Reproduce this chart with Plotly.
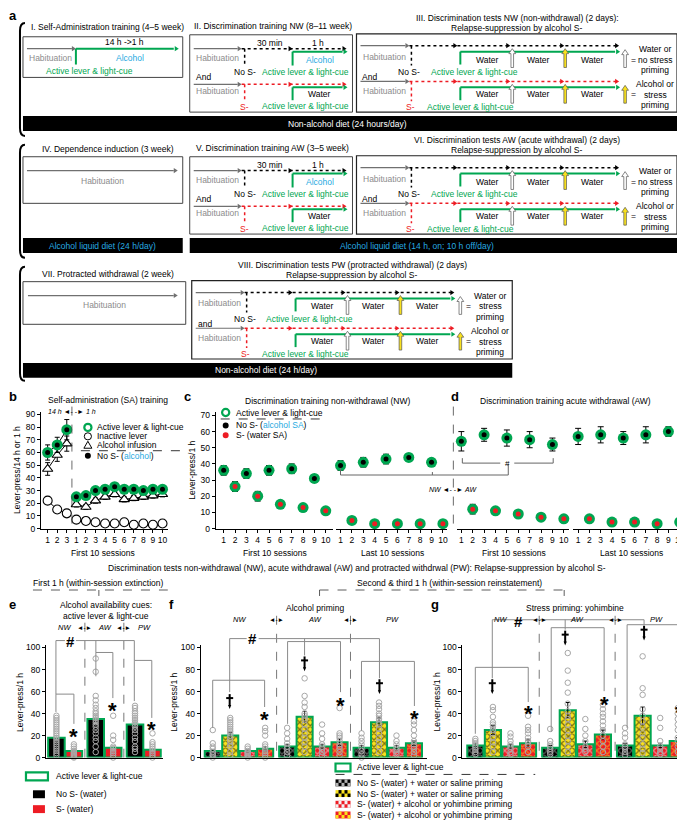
import plotly.graph_objects as go

W, H = 685, 821
FONT = "Liberation Sans, Arial, sans-serif"
FS = 8.5
GREEN = "#00a651"
CYAN = "#27aae1"
RED = "#ed1c24"
DGRAY = "#707070"
LGRAY = "#8c8c8c"
PTGRAY = "#a8a8a8"
BRK = "#8a8a8a"
YEL = "#f9e11e"

# ---------------- data: panel b ----------------
b_tick_labels = ["1", "2", "3", "1", "2", "3", "4", "5", "6", "7", "8", "9", "10"]
b_active = [60, 66, 78, 25, 26, 30, 31, 33, 31, 31, 30, 31, 31]
b_active_err = [6, 6, 8, 3, 3, 3, 3, 3, 3, 3, 3, 3, 3]
b_infusion = [47, 58, 67, 19, 17, 22, 25, 27, 23, 24, 25, 26, 27]
b_infusion_err = [5, 5, 6, 2, 2, 2, 2, 2, 2, 2, 2, 2, 2]
b_inactive = [22, 15, 12, 7, 6, 5, 4, 4, 5, 3, 4, 3, 4]

# ---------------- data: panels c, d ----------------
session_labels = [str(i) for i in range(1, 11)]
nos_sessions = [1, 3, 5, 7, 9]
s_sessions = [2, 4, 6, 8, 10]
c_first_nos = [36, 34, 36, 37, 31]
c_first_nos_err = [3, 3, 3, 3, 2]
c_first_s = [26, 20, 15, 13, 11]
c_first_s_err = [3, 3, 2, 2, 2]
c_last_nos = [39, 41, 43, 44, 41]
c_last_nos_err = [3, 3, 3, 2, 2]
c_last_s = [5, 3, 3, 3, 3]
c_last_s_err = [1, 1, 1, 1, 1]
d_first_nos = [54, 58, 56, 55, 52]
d_first_nos_err = [6, 4, 5, 5, 4]
d_first_s = [12, 11, 9, 7, 6]
d_first_s_err = [3, 2, 1, 1, 1]
d_last_nos = [57, 58, 56, 58, 60]
d_last_nos_err = [5, 5, 4, 5, 3]
d_last_s = [6, 4, 4, 3, 4]
d_last_s_err = [1, 1, 1, 1, 1]

# ---------------- data: panel e ----------------
phases = ["NW", "AW", "PW"]
e_nos = [18, 35, 30]
e_nos_err = [2, 4, 3]
e_s = [6, 9, 7]
e_s_err = [1, 2, 1]
e_nos_pts = [[38, 36, 34, 32, 30, 28, 26, 24, 22, 20, 18, 16, 14, 12, 10, 8, 6, 4, 2],
             [90, 78, 56, 52, 48, 45, 42, 40, 38, 36, 34, 32, 30, 28, 25, 22, 18, 15, 10, 5],
             [47, 45, 42, 40, 38, 36, 34, 32, 30, 28, 25, 22, 18, 15, 10, 8, 5]]
e_s_pts = [[12, 10, 8, 6, 5, 4, 3, 2, 1, 0],
           [38, 20, 16, 10, 8, 6, 4, 2, 0],
           [22, 14, 12, 10, 8, 6, 4, 2, 0]]

# ---------------- data: panels f, g ----------------
f_nos_water = [6, 10, 9]
f_nos_prime = [20, 37, 32]
f_s_water = [6, 10, 9]
f_s_prime = [8, 14, 13]
f_err = [[1, 2, 2], [3, 5, 4], [1, 2, 2], [2, 3, 2]]
f_pts = [
    [[25, 13, 10, 8, 5, 3, 2, 0], [27, 22, 17, 13, 10, 8, 5, 2], [22, 18, 15, 12, 9, 6, 3, 0]],
    [[36, 34, 32, 30, 28, 26, 24, 22, 20, 18, 15, 12, 10, 5, 2],
     [72, 56, 50, 46, 40, 38, 36, 34, 30, 26, 22, 18, 14, 10, 5],
     [50, 47, 44, 40, 38, 35, 32, 30, 26, 22, 18, 14, 10, 5]],
    [[10, 8, 6, 5, 4, 3, 2, 0], [30, 22, 17, 12, 10, 8, 5, 2], [20, 15, 12, 9, 7, 5, 3]],
    [[27, 24, 20, 12, 10, 8, 6, 4, 2, 0], [45, 22, 20, 18, 15, 12, 10, 8, 5, 2],
     [33, 30, 25, 20, 15, 12, 10, 8, 5, 2]],
]
g_nos_water = [11, 9, 11]
g_nos_prime = [25, 43, 38]
g_s_water = [10, 12, 11]
g_s_prime = [13, 21, 15]
g_err = [[2, 2, 2], [4, 7, 8], [2, 3, 2], [3, 4, 3]]
g_pts = [
    [[17, 15, 13, 11, 9, 7, 5, 3], [26, 15, 12, 10, 8, 5, 3], [27, 22, 18, 12, 10, 8, 5, 2]],
    [[46, 43, 37, 32, 30, 28, 25, 22, 18, 14, 10, 5],
     [95, 79, 68, 59, 49, 42, 38, 35, 30, 25, 20, 15, 10, 5],
     [92, 63, 57, 44, 38, 33, 28, 22, 18, 12, 8, 4]],
    [[22, 19, 15, 12, 10, 8, 5, 3], [35, 26, 20, 15, 10, 8, 5], [36, 27, 15, 10, 8, 5, 3]],
    [[38, 28, 25, 22, 18, 15, 12, 10, 5], [48, 44, 40, 37, 33, 29, 25, 20, 15, 10, 5],
     [45, 40, 35, 30, 25, 18, 15, 10, 5]],
]
prime_legend = ["No S- (water) + water or saline priming",
                "No S- (water) + water or saline priming",
                "S- (water) + alcohol or yohimbine priming",
                "S- (water) + alcohol or yohimbine priming"]
prime_bg = ["black", YEL, RED, RED]
prime_fg = ["#b5b5b5", "black", "#f2f2f2", YEL]

# ---------------- helpers ----------------
shapes, annos = [], []


def X(x):
    return x / W


def Y(y):
    return 1 - y / H


def line(x0, y0, x1, y1, color="black", w=1, dash="solid"):
    shapes.append(dict(type="line", xref="paper", yref="paper", x0=X(x0), y0=Y(y0), x1=X(x1), y1=Y(y1),
                       line=dict(color=color, width=w, dash=dash), layer="above"))


def rect(x0, y0, x1, y1, fill="rgba(0,0,0,0)", color="black", w=1):
    shapes.append(dict(type="rect", xref="paper", yref="paper", x0=X(x0), y0=Y(y1), x1=X(x1), y1=Y(y0),
                       fillcolor=fill, line=dict(color=color, width=w), layer="above"))


def circ(x, y, r, fill, color, w=1):
    shapes.append(dict(type="circle", xref="paper", yref="paper", x0=X(x - r), y0=Y(y + r), x1=X(x + r),
                       y1=Y(y - r), fillcolor=fill, line=dict(color=color, width=w), layer="above"))


def poly(pts, fill, color=None, w=0):
    path = "M " + " L ".join(f"{X(a):.5f},{Y(b):.5f}" for a, b in pts) + " Z"
    shapes.append(dict(type="path", xref="paper", yref="paper", path=path, fillcolor=fill,
                       line=dict(color=color or fill, width=w), layer="above"))


def head_r(x, y, color):
    poly([(x - 4, y - 2.6), (x, y), (x - 4, y + 2.6)], color)


def up_arrow(x, yb, yt, fill, edge="#555"):
    poly([(x - 1.3, yb), (x - 1.3, yt + 5), (x - 3.4, yt + 5), (x, yt), (x + 3.4, yt + 5),
          (x + 1.3, yt + 5), (x + 1.3, yb)], fill, edge, 0.7)


def text(x, y, s, size=FS, color="black", xa="center", bold=False, italic=False, angle=0):
    if bold:
        s = f"<b>{s}</b>"
    if italic:
        s = f"<i>{s}</i>"
    annos.append(dict(x=X(x), y=Y(y), xref="paper", yref="paper", text=s, showarrow=False, xanchor=xa,
                      yanchor="middle", font=dict(size=size, color=color, family=FONT), textangle=angle))


def brace(x, y0, y1):
    p = (f"M {X(x + 5)},{Y(y0)} Q {X(x)},{Y(y0)} {X(x)},{Y(y0 + 8)} L {X(x)},{Y(y1 - 8)} "
         f"Q {X(x)},{Y(y1)} {X(x + 5)},{Y(y1)}")
    shapes.append(dict(type="path", xref="paper", yref="paper", path=p, line=dict(color="black", width=2)))


def star(x, y):
    text(x, y + 5, "*", size=22, bold=True)


def dagger(x, y):
    line(x, y - 7, x, y + 5, "black", 2)
    line(x - 3.5, y - 3, x + 3.5, y - 3, "black", 2)
    poly([(x - 1.6, y + 4), (x + 1.6, y + 4), (x, y + 8)], "black")


# ---------------- panel a ----------------
def train_box(dy, title):
    rect(182, 25 + dy, 345, 103 + dy, color="#444", w=1)
    text(265, 16 + dy, title)
    y = 39 + dy
    line(186, y, 230, y, DGRAY, 1.2); head_r(234, y, DGRAY)
    line(234, y, 334, y, "black", 1.5, "dot"); head_r(285, y, "black"); head_r(339, y, "black")
    text(262, y - 6, "30 min"); text(310, y - 6, "1 h")
    line(237, y, 237, y + 17, "black", 1.5, "dot")
    text(210, y + 9, "Habituation", color=LGRAY)
    line(285, y + 17, 285, y + 3, GREEN, 2); line(285, y + 3, 335, y + 3, GREEN, 2); head_r(340, y + 3, GREEN)
    text(312, y + 11, "Alcohol", color=CYAN)
    text(237, y + 24, "No S-"); text(298, y + 24, "Active lever & light-cue", color=GREEN)
    text(186, y + 29, "And", xa="left")
    y = 75 + dy
    line(186, y, 230, y, DGRAY, 1.2); head_r(234, y, DGRAY)
    line(234, y, 334, y, RED, 1.5, "dot"); head_r(285, y, RED); head_r(339, y, RED)
    line(237, y, 237, y + 17, RED, 1.5, "dot")
    text(210, y + 7, "Habituation", color=LGRAY)
    line(285, y + 16, 285, y + 3, GREEN, 2); line(285, y + 3, 335, y + 3, GREEN, 2); head_r(340, y + 3, GREEN)
    text(312, y + 10, "Water")
    text(237, y + 23, "S-", color=RED); text(298, y + 22, "Active lever & light-cue", color=GREEN)


def test_box(dx, dy, t1, t2, leg_a, leg_b, and_text="And"):
    rect(349 + dx, 24 + dy, 670 + dx, 103 + dy, color="#222", w=1.2)
    text(510 + dx, 8 + dy, t1); text(510 + dx, 18 + dy, t2)
    for row in range(2):
        y = (36 if row == 0 else 72) + dy
        dc = "black" if row == 0 else RED
        line(353 + dx, y, 398 + dx, y, DGRAY, 1.2); head_r(402 + dx, y, DGRAY)
        line(402 + dx, y, 609 + dx, y, dc, 1.5, "dot")
        for hx in (450, 503, 557, 612):
            head_r(hx + dx, y, dc)
        line(404 + dx, y, 404 + dx, y + 20, dc, 1.5, "dot")
        text(377 + dx, y + 11 - row, "Habituation", color=LGRAY)
        line(453 + dx, y + 19, 453 + dx, y + 6, GREEN, 2); line(453 + dx, y + 6, 608 + dx, y + 6, GREEN, 2)
        head_r(613 + dx, y + 6, GREEN)
        for wx in (480, 531, 585):
            text(wx + dx, y + 14 - row, "Water")
        up_arrow(505 + dx, y + 22, y + 3, "white"); up_arrow(558 + dx, y + 22, y + 3, YEL)
        up_arrow(618 + dx, y + 22, y + 4, "white" if row == 0 else YEL)
        text(626 + dx, y + 14 - row, "=")
        leg = leg_a if row == 0 else leg_b
        for i, s in enumerate(leg):
            text(648 + dx, y + 3 + 11 * i - (row * i * 0.5), s)
        if row == 0:
            text(402 + dx, y + 27, "No S-")
            text(467 + dx, y + 27, "Active lever & light-cue", color=GREEN)
            text(353 + dx, y + 32, and_text, xa="left")
        else:
            text(403 + dx, y + 26, "S-", color=RED)
            text(463 + dx, y + 26, "Active lever & light-cue", color=GREEN)


text(5, 6, "a", size=13, bold=True)
# block 1
brace(12, 13, 127)
rect(15, 27, 175, 68, color="#444", w=1)
text(100, 17, "I. Self-Administration training (4–5 week)")
line(19, 39, 64, 39, DGRAY, 1.2); head_r(68, 39, DGRAY)
line(68, 55, 68, 39, GREEN, 2); line(68, 39, 166, 39, GREEN, 2); head_r(171, 39, GREEN)
text(117, 32, "14 h ->1 h")
text(43, 48, "Habituation", color=LGRAY)
text(122, 48, "Alcohol", color=CYAN)
text(82, 62, "Active lever & light-cue", color=GREEN)
train_box(0, "II. Discrimination training NW (8–11 week)")
test_box(0, 0, "III. Discrimination tests NW (non-withdrawal) (2 days):", "Relapse-suppression by alcohol S-",
         ["Water or", "no stress", "priming"], ["Alcohol or", "stress", "priming"])
rect(15, 107, 670, 122, fill="black", color="black", w=0)
text(340, 115, "Non-alcohol diet (24 hours/day)", color="white")
# block 2
dy = 123
brace(12, 136, 250)
rect(15, 148, 175, 195, color="#444", w=1)
text(100, 140, "IV. Dependence induction (3 week)")
line(19, 162, 166, 162, DGRAY, 1.2); head_r(170, 162, DGRAY)
text(95, 172, "Habituation", color=LGRAY)
train_box(dy, "V. Discrimination training AW (3–5 week)")
test_box(0, dy, "VI. Discrimination tests AW (acute withdrawal) (2 days)", "Relapse-suppression by alcohol S-",
         ["Water or", "no stress", "priming"], ["Alcohol or", "stress", "priming"])
rect(15, 230, 175, 245, fill="black", color="black", w=0)
text(95, 238, "Alcohol liquid diet (24 h/day)", color=CYAN)
rect(182, 230, 670, 245, fill="black", color="black", w=0)
text(410, 238, "Alcohol liquid diet (14 h, on; 10 h off/day)", color=CYAN)
# block 3
dy = 249
brace(12, 259, 374)
rect(15, 274, 178, 317, color="#444", w=1)
text(100, 266, "VII. Protracted withdrawal (2 week)")
line(20, 288, 166, 288, DGRAY, 1.2); head_r(170, 288, DGRAY)
text(97, 298, "Habituation", color=LGRAY)
test_box(-165, dy, "VIII. Discrimination tests PW (protracted withdrawal) (2 days)",
         "Relapse-suppression by alcohol S-",
         ["Water or", "stress", "priming"], ["Alcohol or", "stress", "priming"], and_text="and")
rect(15, 356, 505, 371, fill="black", color="black", w=0)
text(258, 363.5, "Non-alcohol diet (24 h/day)", color="white")

# ---------------- panel b ----------------
fig = go.Figure()
b_x = list(range(1, len(b_tick_labels) + 1))


def split(v):
    return v[:3] + [None] + v[3:]


bx_s = split(b_x)
fig.add_trace(go.Scatter(x=bx_s, y=split(b_inactive), mode="lines+markers", line=dict(color="black", width=1),
                         marker=dict(symbol="circle", size=9, color="white", line=dict(color="black", width=1.1)),
                         cliponaxis=False))
fig.add_trace(go.Scatter(x=bx_s, y=split(b_infusion), mode="lines+markers", line=dict(color="black", width=1),
                         marker=dict(symbol="triangle-up", size=9, color="white", line=dict(color="black", width=1.1)),
                         error_y=dict(type="data", array=split(b_infusion_err), color="black", thickness=1, width=2.5),
                         cliponaxis=False))
fig.add_trace(go.Scatter(x=bx_s, y=split(b_active), mode="lines+markers", line=dict(color="black", width=1),
                         marker=dict(size=11, color=GREEN),
                         error_y=dict(type="data", array=split(b_active_err), color="black", thickness=1, width=2.5),
                         cliponaxis=False))
fig.add_trace(go.Scatter(x=b_x, y=b_active, mode="markers", marker=dict(size=5, color="black"), cliponaxis=False))

text(5, 390, "b", size=13, bold=True)
text(100, 393, "Self-administration (SA) training")
text(64, 405, "<i>14 h</i> ◄- -► <i>1 h</i>", size=7)
line(64, 400, 64, 523, "#444", 0.8, "dash")
text(9, 464, "Lever-press/14 h or 1 h", angle=-90)
text(95, 548, "First 10 sessions")
circ(80, 421, 3.6, "white", GREEN, 2.2); text(87, 421, "Active lever & light-cue", xa="left")
circ(80, 430, 3.6, "white", "black", 1); text(87, 430, "Inactive lever", xa="left")
poly([(76, 442), (80, 435), (84, 442)], "white", "black", 1); text(87, 439, "Alcohol infusion", xa="left")
line(73, 444.5, 176, 444.5, "black", 0.8, "dash")
circ(80, 449.5, 3, "black", "black", 0)
text(87, 449.5, f"No S- (<span style='color:{CYAN}'>alcohol</span>)", xa="left")


# ---------------- panels c, d ----------------
def add_pts(xa, xs, ys, errs, center):
    fig.add_trace(go.Scatter(x=xs, y=ys, mode="markers", xaxis=xa, yaxis="y2", marker=dict(size=11, color=GREEN),
                             error_y=dict(type="data", array=errs, color="black", thickness=1, width=3),
                             cliponaxis=False))
    fig.add_trace(go.Scatter(x=xs, y=ys, mode="markers", xaxis=xa, yaxis="y2",
                             marker=dict(size=5, color=center), cliponaxis=False))


add_pts("x2", nos_sessions, c_first_nos, c_first_nos_err, "black")
add_pts("x2", s_sessions, c_first_s, c_first_s_err, RED)
add_pts("x3", nos_sessions, c_last_nos, c_last_nos_err, "black")
add_pts("x3", s_sessions, c_last_s, c_last_s_err, RED)
add_pts("x4", nos_sessions, d_first_nos, d_first_nos_err, "black")
add_pts("x4", s_sessions, d_first_s, d_first_s_err, RED)
add_pts("x5", nos_sessions, d_last_nos, d_last_nos_err, "black")
add_pts("x5", s_sessions, d_last_s, d_last_s_err, RED)

text(180, 390, "c", size=13, bold=True)
text(320, 394, "Discrimination training non-withdrawal (NW)")
text(184, 464, "Lever-press/1 h", angle=-90)
circ(218, 406, 3.6, "white", GREEN, 2.2); text(226, 406, "Active lever & light-cue", xa="left")
line(213, 412.5, 316, 412.5, "black", 0.8, "dash")
circ(218, 419, 3, "black", "black", 0)
text(226, 419, f"No S- (<span style='color:{CYAN}'>alcohol SA</span>)", xa="left")
circ(218, 429, 3, RED, RED, 0); text(226, 429, "S- (water SA)", xa="left")
text(267, 548, "First 10 sessions"); text(385, 548, "Last 10 sessions")
text(448, 390, "d", size=13, bold=True)
text(558, 394, "Discrimination training acute withdrawal (AW)")
text(507, 548, "First 10 sessions"); text(624, 548, "Last 10 sessions")
line(446, 400, 446, 525, "#444", 0.8, "dash")
text(446, 484, "<i>NW</i> ◄- -► <i>AW</i>", size=7)
line(333, 462, 333, 469, "#666", 1); line(333, 469, 501, 469, "#666", 1)
line(425, 466, 425, 469, "#666", 1); line(501, 469, 501, 458, "#666", 1)
line(455, 452, 455, 457, "#666", 1); line(455, 457, 493, 457, "#666", 1)
line(507, 457, 546, 457, "#666", 1); line(546, 457, 546, 452, "#666", 1)
text(500, 457, "#", size=8)

# ---------------- shared text for e, f, g ----------------
text(350, 563, "Discrimination tests non-withdrawal (NW), acute withdrawal (AW) and protracted withdrwal (PW): "
               "Relapse-suppression by alcohol S-")
text(91, 578, "First 1 h (within-session extinction)")
line(25, 585, 160, 585, "#333", 0.8, "dash"); line(91, 585, 91, 591, "#333", 0.8)
text(442, 578, "Second & third 1 h (within-session reinstatement)")
line(312, 585, 557, 585, "#333", 0.8, "dash")
line(312, 585, 312, 591, "#333", 0.8); line(557, 585, 557, 591, "#333", 0.8)

# ---------------- panel e ----------------
E_STRIDE = 2.25
e_x_nos = [g * E_STRIDE for g in range(3)]
e_x_s = [g * E_STRIDE + 1 for g in range(3)]
fig.add_trace(go.Bar(x=e_x_nos, y=e_nos, width=0.95, xaxis="x6", yaxis="y6",
                     marker=dict(color="black", line=dict(color=GREEN, width=2)),
                     error_y=dict(type="data", array=e_nos_err, color="#bbbbbb", thickness=1, width=2)))
fig.add_trace(go.Bar(x=e_x_s, y=e_s, width=0.95, xaxis="x6", yaxis="y6",
                     marker=dict(color=RED, line=dict(color=GREEN, width=2)),
                     error_y=dict(type="data", array=e_s_err, color="#bbbbbb", thickness=1, width=2)))
for xs, pts in ((e_x_nos, e_nos_pts), (e_x_s, e_s_pts)):
    px_, py_ = [], []
    for xv, lst in zip(xs, pts):
        px_ += [xv] * len(lst)
        py_ += lst
    fig.add_trace(go.Scatter(x=px_, y=py_, mode="markers", xaxis="x6", yaxis="y6", cliponaxis=False,
                             marker=dict(symbol="circle-open", size=5.5, color=PTGRAY, line=dict(width=1))))

text(5, 600, "e", size=13, bold=True)
text(98, 600, "Alcohol availability cues:")
text(98, 611, "active lever & light-cue")
for xx, s in ((57, "NW"), (97, "AW"), (137, "PW")):
    text(xx, 623, s, size=7.5, italic=True)
for xx in (77, 116):
    text(xx, 623, "◄-►", size=6.5)
    line(xx, 618, xx, 754, "#555", 0.8, "dash")
text(12, 698, "Lever-press/1 h", angle=-90)
# brackets e
line(48, 636, 57, 636, BRK); line(68, 636, 126.5, 636, BRK); text(62.5, 637, "#", size=15, bold=True)
line(48, 636, 48, 690, BRK)
line(48, 690, 66, 690, BRK); line(48, 690, 48, 708, BRK); line(66, 690, 66, 720, BRK); star(66, 728)
line(88, 636, 88, 648, BRK)
line(88, 648, 105, 648, BRK); line(88, 648, 88, 672, BRK); line(105, 648, 105, 694, BRK); star(105, 702)
line(126.5, 636, 126.5, 656, BRK)
line(126.5, 656, 144, 656, BRK); line(126.5, 656, 126.5, 697, BRK); line(144, 656, 144, 714, BRK); star(144, 721)
# legend e
rect(18, 769, 40, 777, fill="white", color=GREEN, w=2.2); text(46, 773, "Active lever & light-cue", xa="left")
rect(25, 787, 37, 795, fill="black", color="black", w=0); text(46, 791, "No S- (water)", xa="left")
rect(25, 802, 37, 810, fill=RED, color=RED, w=0); text(46, 806, "S- (water)", xa="left")

# ---------------- panels f, g ----------------
FG_STRIDE = 4.26


def prime_panel(xa, ya, series, errs, pts):
    for i, (vals, er) in enumerate(zip(series, errs)):
        xs = [g * FG_STRIDE + i for g in range(3)]
        fig.add_trace(go.Bar(x=xs, y=vals, width=0.92, xaxis=xa, yaxis=ya,
                             marker=dict(color=prime_bg[i], line=dict(color=GREEN, width=2),
                                         pattern=dict(shape="x", fgcolor=prime_fg[i], bgcolor=prime_bg[i],
                                                      size=5, solidity=0.45)),
                             error_y=dict(type="data", array=er, color="black", thickness=1, width=2)))
        px_, py_ = [], []
        for xv, lst in zip(xs, pts[i]):
            px_ += [xv] * len(lst)
            py_ += lst
        fig.add_trace(go.Scatter(x=px_, y=py_, mode="markers", xaxis=xa, yaxis=ya, cliponaxis=False,
                                 marker=dict(symbol="circle-open", size=5.5, color=PTGRAY, line=dict(width=1))))


prime_panel("x7", "y7", [f_nos_water, f_nos_prime, f_s_water, f_s_prime], f_err, f_pts)
prime_panel("x8", "y8", [g_nos_water, g_nos_prime, g_s_water, g_s_prime], g_err, g_pts)

text(164, 600, "f", size=13, bold=True)
text(307, 603, "Alcohol priming")
text(166, 698, "Lever-press/1 h", angle=-90)
for xx, s in ((232, "NW"), (307, "AW"), (385, "PW")):
    text(xx, 615, s, size=7.5, italic=True)
for xx in (269, 343):
    text(xx, 615, "◄-►", size=6.5)
    line(xx, 611, xx, 754, "#555", 0.8, "dash")
# f brackets
line(222, 634, 239, 634, BRK); line(251, 634, 372, 634, BRK); text(245, 634, "#", size=15, bold=True)
line(222, 634, 222, 688, BRK); dagger(222, 697)
line(205, 676, 257, 676, BRK); line(205, 676, 205, 724, BRK); line(257, 676, 257, 703, BRK); star(257, 711)
line(297, 634, 297, 651, BRK); dagger(297, 659)
line(280, 637, 333, 637, BRK); line(280, 637, 280, 720, BRK); line(333, 637, 333, 688, BRK); star(333, 696)
line(372, 634, 372, 674, BRK); dagger(372, 682)
line(354, 657, 407, 657, BRK); line(354, 657, 354, 727, BRK); line(407, 657, 407, 702, BRK); star(407, 710)

text(428, 600, "g", size=13, bold=True)
text(568, 603, "Stress priming: yohimbine")
text(430, 698, "Lever-press/1 h", angle=-90)
for xx, s in ((493, "NW"), (570, "AW"), (649, "PW")):
    text(xx, 615, s, size=7.5, italic=True)
text(511, 617, "#", size=15, bold=True)
for xx in (532, 608):
    text(xx, 615, "◄-►", size=6.5)
    line(xx, 611, xx, 754, "#555", 0.8, "dash")
# g brackets
line(485, 615, 637, 615, BRK)
line(485, 615, 485, 674, BRK); dagger(485, 682)
line(468, 663, 521, 663, BRK); line(468, 663, 468, 730, BRK); line(521, 663, 521, 698, BRK); star(521, 705)
line(558, 615, 558, 625, BRK); dagger(558, 633)
line(544, 623, 597, 623, BRK); line(544, 623, 544, 728, BRK); line(597, 623, 597, 687, BRK); star(597, 695)
line(637, 615, 637, 620, BRK); dagger(637, 628)
line(620, 620, 672, 620, BRK); line(620, 620, 620, 724, BRK); line(672, 620, 672, 697, BRK); star(672, 704)

# bottom legend
rect(328, 760, 343, 768, fill="white", color=GREEN, w=2.2)
text(348, 764, "Active lever & light-cue", xa="left")
line(328, 771, 528, 771, "black", 0.8, "dash")
for k, lab in enumerate(prime_legend):
    yy = 776 + 10.8 * k
    rect(328, yy, 343, yy + 7, fill=prime_bg[k], color=prime_bg[k], w=0)
    for i in range(5):
        for j in range(2):
            if (i + j) % 2:
                rect(328 + 3 * i, yy + 3.5 * j, 331 + 3 * i, yy + 3.5 * (j + 1), fill=prime_fg[k],
                     color=prime_fg[k], w=0)
    text(348, yy + 3.5, lab, xa="left")


# ---------------- axes ----------------
def xax(d0, d1, rng, anchor, **kw):
    base = dict(domain=[X(d0), X(d1)], range=rng, anchor=anchor, showgrid=False, zeroline=False,
                showline=True, linecolor="black", linewidth=1, ticks="outside", ticklen=3, tickcolor="black",
                tickangle=0, tickfont=dict(size=FS, family=FONT, color="black"))
    base.update(kw)
    return base


def yax(top, bottom, rng, anchor, **kw):
    base = dict(domain=[Y(bottom), Y(top)], range=rng, anchor=anchor, showgrid=False, zeroline=False,
                showline=True, linecolor="black", linewidth=1, ticks="outside", ticklen=3, tickcolor="black",
                tickfont=dict(size=FS, family=FONT, color="black"))
    base.update(kw)
    return base


sess_ticks = dict(tickvals=list(range(1, 11)), ticktext=session_labels)
fig.update_layout(
    width=W, height=H, margin=dict(l=0, r=0, t=0, b=0), paper_bgcolor="white", plot_bgcolor="rgba(0,0,0,0)",
    showlegend=False, barmode="overlay", font=dict(family=FONT, size=FS, color="black"),
    shapes=shapes, annotations=annos,
    xaxis=xax(33, 160, [0.3, 13.55], "y", tickvals=b_x, ticktext=b_tick_labels),
    yaxis=yax(405, 523, [0, 92.3], "x", tickvals=list(range(0, 91, 10))),
    xaxis2=xax(208, 325, [0.295, 10.6], "y2", **sess_ticks),
    xaxis3=xax(328, 440, [0.56, 10.39], "y2", **sess_ticks),
    xaxis4=xax(450, 562, [0.65, 10.47], "y2", **sess_ticks),
    xaxis5=xax(566, 679, [0.56, 10.56], "y2", **sess_ticks),
    yaxis2=yax(405, 523, [0, 72.4], "x2", tickvals=list(range(0, 71, 10))),
    xaxis6=xax(38, 155, [-0.6, 6.09], "y6", ticks="", showticklabels=False),
    yaxis6=yax(640, 754, [0, 102.7], "x6", tickvals=list(range(0, 101, 20))),
    xaxis7=xax(193, 420, [-0.69, 12.29], "y7", ticks="", showticklabels=False),
    yaxis7=yax(640, 754, [0, 102.7], "x7", tickvals=list(range(0, 101, 20))),
    xaxis8=xax(455, 685, [-0.74, 12.33], "y8", ticks="", showticklabels=False),
    yaxis8=yax(640, 754, [0, 102.7], "x8", tickvals=list(range(0, 101, 20))),
)

fig.write_html("out.html")
